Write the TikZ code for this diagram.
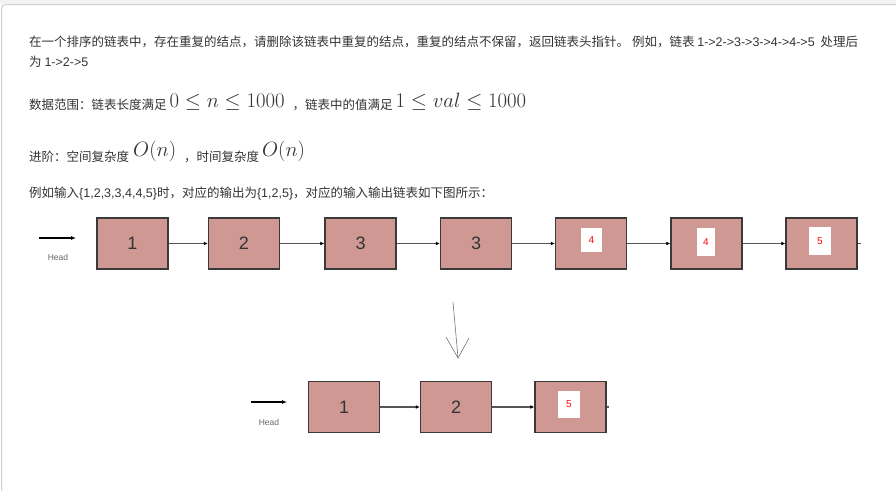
\documentclass[tikz,border=0pt]{standalone}
\usepackage{fontspec}
\setmainfont{Noto Sans CJK SC}
\newfontfamily\arialfont{Liberation Sans}
\usetikzlibrary{positioning,arrows.meta}
\definecolor{boxfill}{HTML}{D09892}
\definecolor{boxline}{HTML}{3A3A3A}
\definecolor{linkgray}{HTML}{555555}
\definecolor{txtgray}{HTML}{333333}
\newcommand{\lat}[1]{{\arialfont #1}}
\newcommand{\mathbig}[1]{{\fontsize{19.5}{22}\selectfont$#1$}}

\begin{document}
\begin{tikzpicture}[x=1pt,y=-1pt,
  txt/.style={anchor=base west,inner sep=0pt,text=txtgray,font=\fontsize{12.5}{15}\selectfont},
  listnode/.style={draw=boxline,line width=1.5pt,fill=boxfill,minimum width=71pt,minimum height=51pt,inner sep=0pt,text=txtgray,font=\arialfont\fontsize{18}{20}\selectfont},
  valbox/.style={fill=white,text=red,inner sep=0pt,font=\arialfont\fontsize{10}{12}\selectfont},
  link/.style={draw=linkgray,line width=1.3pt,-{Latex[length=4pt,width=4pt,color=black]}},
  stub/.style={draw=linkgray,line width=1.3pt},
  headarrow/.style={draw=black,line width=1.2pt,-{Latex[length=5pt,width=4pt]}},
  headlabel/.style={inner sep=0pt,text=black!60,font=\arialfont\fontsize{8.5}{10}\selectfont}]
  \useasboundingbox (0,0) rectangle (896,490);
  \fill[black!5] (0,0) rectangle (896,4);
  \draw[black!18,line width=1pt,rounded corners=4pt] (1.5,491) -- (1.5,4.5) -- (897,4.5);

  \node[txt] (t1) at (29,46) {在一个排序的链表中，存在重复的结点，请删除该链表中重复的结点，重复的结点不保留，返回链表头指针。 例如，链表 \lat{1->2->3->3->4->4->5}\hspace{6pt}处理后};
  \node[txt] (t2) at (29,66) {为 \lat{1->2->5}};
  \node[txt] (t3) at (29,109) {数据范围：链表长度满足\hspace{3pt}\raisebox{2pt}{\mathbig{0 \le n \le 1000}}\hspace{8pt}，链表中的值满足\hspace{3pt}\raisebox{2pt}{\mathbig{1 \le val \le 1000}}};
  \node[txt] (t4) at (29,161) {进阶：空间复杂度\hspace{4pt}\raisebox{5pt}{\mathbig{O(n)}}\hspace{8pt}，时间复杂度\hspace{3pt}\raisebox{5pt}{\mathbig{O(n)}}};
  \node[txt] (t5) at (29,197) {例如输入\lat{\{1,2,3,3,4,4,5\}}时，对应的输出为\lat{\{1,2,5\}}，对应的输入输出链表如下图所示：};

  \coordinate (h0) at (39,238);
  \coordinate (h1) at (76,238);
  \draw[headarrow] (h0) -- (h1);
  \node[headlabel] (hd) at (58,257) {Head};

  \node[listnode] (n1) at (132.5,243.5) {1};
  \node[listnode] (n2) at (244,243.5) {2};
  \node[listnode] (n3) at (360.5,243.5) {3};
  \node[listnode] (n4) at (476,243.5) {3};
  \node[listnode] (n5) at (591,243.5) {};
  \node[listnode] (n6) at (706.5,243.5) {};
  \node[listnode] (n7) at (821.5,243.5) {};
  \node[valbox,minimum width=21pt,minimum height=24pt] (v5) at (591.5,240) {4};
  \node[valbox,minimum width=18pt,minimum height=28pt] (v6) at (706,242) {4};
  \node[valbox,minimum width=22pt,minimum height=28pt] (v7) at (820,241) {5};
  \coordinate[right=3pt of n7.east] (tail);

  \draw[link] (n1) -- (n2);
  \draw[link] (n2) -- (n3);
  \draw[link] (n3) -- (n4);
  \draw[link] (n4) -- (n5);
  \draw[link] (n5) -- (n6);
  \draw[link] (n6) -- (n7);
  \draw[stub] (n7) -- (tail);

  \coordinate (d0) at (453,302);
  \coordinate (d1) at (458,358);
  \coordinate (dl) at (446,337);
  \coordinate (dr) at (469,338);
  \draw[black!55,line width=0.6pt] (d0) -- (d1);
  \draw[black!55,line width=0.6pt] (dl) -- (d1) -- (dr);

  \coordinate (g0) at (251,402);
  \coordinate (g1) at (287,402);
  \draw[headarrow] (g0) -- (g1);
  \node[headlabel] (hd2) at (269,422) {Head};

  \node[listnode] (m1) at (344,407) {1};
  \node[listnode] (m2) at (456,407) {2};
  \node[listnode] (m3) at (570.5,407) {};
  \node[valbox,minimum width=22pt,minimum height=27pt] (w3) at (569,404.5) {5};
  \coordinate[right=2pt of m3.east] (mtail);

  \draw[link] (m1) -- (m2);
  \draw[link] (m2) -- (m3);
  \draw[stub] (m3) -- (mtail);
\end{tikzpicture}
\end{document}
